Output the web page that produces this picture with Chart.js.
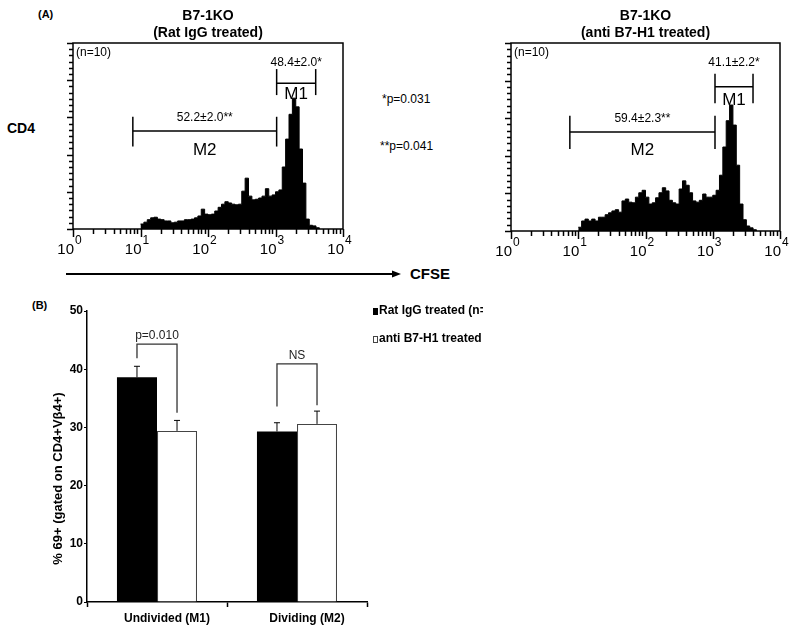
<!DOCTYPE html>
<html>
<head>
<meta charset="utf-8">
<script src="https://cdn.jsdelivr.net/npm/chart.js@4.4.0/dist/chart.umd.min.js"></script>
<style>
    body { margin: 0; background: #fff; font-family: "Liberation Sans", Arial, sans-serif; color: #000; }
    #page { position: relative; width: 800px; height: 633px; overflow: hidden; background: #fff; }
    #page canvas, #page .lbl, #page svg { position: absolute; }
    .lbl { line-height: 1; white-space: nowrap; }
    .bold { font-weight: bold; }
    #barLegend { position: absolute; left: 373px; top: 302px; width: 110px; overflow: hidden; }
    .leg-row { height: 28px; line-height: 16px; white-space: nowrap; font-weight: bold; font-size: 12px; }
    .swatch { display: inline-block; width: 5px; height: 7px; margin-right: 1px; vertical-align: -1px; box-sizing: border-box; }
</style>
</head>
<body>
<div id="page">
    <div class="lbl bold" style="left:38px; top:9px; font-size:11px;">(A)</div>
    <div class="lbl bold" style="left:7px; top:121px; font-size:14px;">CD4</div>
    <div class="lbl" style="left:382px; top:93px; font-size:12px;">*p=0.031</div>
    <div class="lbl" style="left:380px; top:140px; font-size:12px;">**p=0.041</div>
    <svg style="left:60px; top:268px;" width="345" height="12">
        <line x1="6" y1="6" x2="334" y2="6" stroke="#000" stroke-width="2"></line>
        <polygon points="341,6 332,2.5 332,9.5" fill="#000"></polygon>
    </svg>
    <div class="lbl bold" style="left:410px; top:266px; font-size:15px;">CFSE</div>
    <div class="lbl bold" style="left:32px; top:300px; font-size:11px;">(B)</div>

    <canvas id="histLeft" width="400" height="290" style="left:0; top:0;"></canvas>
    <canvas id="histRight" width="400" height="290" style="left:400px; top:0;"></canvas>
    <canvas id="barChart" width="800" height="343" style="left:0; top:290px;"></canvas>
    <div id="barLegend"></div>
</div>

<script>
const FONT = '"Liberation Sans", Arial, sans-serif';

// CFSE channel bins (log10 of bin start, bin width in decades)
const binStartLog = 1.0;
const binWidthLog = 0.05;

// CD4 events per CFSE bin
const ratIgGCounts = [8, 11, 15, 18, 19, 16, 15, 13, 13, 10, 11, 13, 13, 15, 15, 16, 18, 21, 32, 24,
    23, 24, 29, 35, 40, 44, 42, 40, 39, 40, 61, 82, 53, 47, 48, 50, 53, 65, 53, 55,
    60, 63, 100, 145, 185, 211, 197, 129, 74, 16, 6, 5, 2];
const antiB7H1Counts = [6, 16, 19, 16, 19, 16, 22, 22, 26, 29, 32, 34, 30, 48, 51, 46, 45, 54, 61, 65,
    54, 43, 45, 53, 61, 69, 64, 49, 45, 43, 67, 80, 73, 61, 48, 46, 49, 59, 54, 54,
    57, 65, 89, 134, 176, 201, 169, 105, 43, 18, 8, 5, 2];

// Gates (CFSE range) and their stats
const gateNames = ['M2', 'M1'];
const ratIgGGateRanges = [[7.7, 1040], [1040, 3940]];
const ratIgGGateStats = ['52.2±2.0**', '48.4±2.0*'];
const antiB7H1GateRanges = [[7.5, 1080], [1080, 3970]];
const antiB7H1GateStats = ['59.4±2.3**', '41.1±2.2*'];

// Panel B: % CD69+ per division group
const groups = ['Undivided (M1)', 'Dividing (M2)'];
const ratIgGCD69 = [38.6, 29.3];
const ratIgGCD69Sem = [1.9, 1.5];
const antiB7H1CD69 = [29.4, 30.6];
const antiB7H1CD69Sem = [1.8, 2.2];
const comparisons = ['p=0.010', 'NS'];

// Function to turn bin counts into step points
function histPoints(counts) {
    const pts = counts.map((c, k) => ({ x: Math.pow(10, binStartLog + k * binWidthLog), y: c }));
    pts.push({ x: Math.pow(10, binStartLog + counts.length * binWidthLog), y: 0 });
    return pts;
}

function strokeLine(ctx, x1, y1, x2, y2) {
    ctx.beginPath();
    ctx.moveTo(x1, y1);
    ctx.lineTo(x2, y2);
    ctx.stroke();
}

// Plugin drawing the frame, log axis, gates and stats of a histogram
function makeHistDecor(ranges, stats, levels) {
    return {
        id: 'histDecor',
        afterDraw(chart) {
            const { ctx, chartArea: a, scales: { x, y } } = chart;
            ctx.save();
            ctx.strokeStyle = '#000';
            ctx.fillStyle = '#000';

            // frame
            ctx.lineWidth = 1.5;
            ctx.strokeRect(a.left, a.top, a.right - a.left, a.bottom - a.top);

            // x ticks: decades with minor ticks
            ctx.lineWidth = 1.5;
            for (let e = 0; e < 4; e++) {
                for (let m = 1; m < 10; m++) {
                    const px = Math.round(x.getPixelForValue(m * Math.pow(10, e))) + 0.5;
                    strokeLine(ctx, px, a.bottom, px, a.bottom + (m === 1 ? 8 : 5));
                }
            }
            strokeLine(ctx, Math.round(a.right) + 0.5, a.bottom, Math.round(a.right) + 0.5, a.bottom + 8);

            // y ticks (left, outside)
            for (let v = 0; v <= 300; v += 10) {
                const py = Math.round(y.getPixelForValue(v)) + 0.5;
                strokeLine(ctx, a.left - (v % 60 === 0 ? 6 : 4), py, a.left, py);
            }

            // x tick labels 10^n
            for (let e = 0; e <= 4; e++) {
                const px = x.getPixelForValue(Math.pow(10, e));
                ctx.font = '15px ' + FONT;
                ctx.textAlign = 'right';
                ctx.textBaseline = 'alphabetic';
                ctx.fillText('10', px + 1, a.bottom + 25);
                ctx.font = '12px ' + FONT;
                ctx.textAlign = 'left';
                ctx.fillText(String(e), px + 2, a.bottom + 15);
            }

            // (n=10)
            ctx.font = '12px ' + FONT;
            ctx.textAlign = 'left';
            ctx.textBaseline = 'middle';
            ctx.fillText('(n=10)', a.left + 3, a.top + 10);

            // gates
            ranges.forEach((r, i) => {
                const lv = levels[i];
                const x1 = x.getPixelForValue(r[0]);
                const x2 = x.getPixelForValue(r[1]);
                ctx.lineWidth = 1.5;
                strokeLine(ctx, x1, y.getPixelForValue(lv.line), x2, y.getPixelForValue(lv.line));
                strokeLine(ctx, x1, y.getPixelForValue(lv.top), x1, y.getPixelForValue(lv.bottom));
                strokeLine(ctx, x2, y.getPixelForValue(lv.top), x2, y.getPixelForValue(lv.bottom));
                const cx = (x1 + x2) / 2;
                ctx.textAlign = 'center';
                ctx.font = '17px ' + FONT;
                ctx.fillText(gateNames[i], cx, y.getPixelForValue(lv.name));
                ctx.font = '12px ' + FONT;
                ctx.fillText(stats[i], cx, y.getPixelForValue(lv.stat));
            });
            ctx.restore();
        }
    };
}

function histConfig(counts, subtitle, pad, ranges, stats, levels) {
    return {
        type: 'line',
        data: {
            datasets: [{
                data: histPoints(counts),
                stepped: true,
                fill: 'origin',
                backgroundColor: '#000',
                borderColor: '#000',
                borderWidth: 1,
                pointRadius: 0
            }]
        },
        options: {
            responsive: false,
            animation: false,
            layout: { padding: pad },
            plugins: {
                legend: { display: false },
                tooltip: { enabled: false },
                title: {
                    display: true,
                    text: ['B7-1KO', subtitle],
                    fullSize: false,
                    color: '#000',
                    font: { family: FONT, size: 14, weight: 'bold' },
                    padding: { top: 8, bottom: 1.4 }
                }
            },
            scales: {
                x: { type: 'logarithmic', min: 1, max: 10000, display: false },
                y: { min: 0, max: 300, display: false }
            }
        },
        plugins: [makeHistDecor(ranges, stats, levels)]
    };
}

new Chart(document.getElementById('histLeft'), histConfig(
    ratIgGCounts, '(Rat IgG treated)',
    { left: 73, right: 57, top: 0, bottom: 61 },
    ratIgGGateRanges, ratIgGGateStats,
    [{ line: 158, top: 181, bottom: 133, name: 127, stat: 179 },
     { line: 235, top: 258, bottom: 216, name: 218, stat: 269 }]
));

new Chart(document.getElementById('histRight'), histConfig(
    antiB7H1Counts, '(anti B7-H1 treated)',
    { left: 111, right: 20, top: 0, bottom: 59 },
    antiB7H1GateRanges, antiB7H1GateStats,
    [{ line: 158, top: 184, bottom: 131, name: 129, stat: 180 },
     { line: 230, top: 251, bottom: 204, name: 209, stat: 268 }]
));

// Plugin for error bars, significance brackets and the y title
const barDecor = {
    id: 'barDecor',
    afterDraw(chart) {
        const { ctx, chartArea: a, scales: { y } } = chart;
        const sems = [ratIgGCD69Sem, antiB7H1CD69Sem];
        ctx.save();
        ctx.strokeStyle = '#000';
        ctx.lineWidth = 1;
        chart.data.datasets.forEach((ds, di) => {
            chart.getDatasetMeta(di).data.forEach((bar, i) => {
                const top = y.getPixelForValue(ds.data[i] + sems[di][i]);
                strokeLine(ctx, bar.x, bar.y, bar.x, top);
                strokeLine(ctx, bar.x - 3, top, bar.x + 3, top);
            });
        });

        // brackets
        const bracketLevels = [{ top: 44.3, left: 41.9, right: 32.5 }, { top: 40.9, left: 33.6, right: 33.8 }];
        const m0 = chart.getDatasetMeta(0).data;
        const m1 = chart.getDatasetMeta(1).data;
        ctx.strokeStyle = '#333';
        ctx.lineWidth = 1.3;
        comparisons.forEach((txt, i) => {
            const lv = bracketLevels[i];
            const x1 = m0[i].x, x2 = m1[i].x;
            const yt = y.getPixelForValue(lv.top);
            ctx.beginPath();
            ctx.moveTo(x1, y.getPixelForValue(lv.left));
            ctx.lineTo(x1, yt);
            ctx.lineTo(x2, yt);
            ctx.lineTo(x2, y.getPixelForValue(lv.right));
            ctx.stroke();
            ctx.fillStyle = '#222';
            ctx.font = '12px ' + FONT;
            ctx.textAlign = 'center';
            ctx.textBaseline = 'alphabetic';
            ctx.fillText(txt, (x1 + x2) / 2, yt - 5);
        });

        // rotated y title
        ctx.fillStyle = '#000';
        ctx.font = 'bold 13px ' + FONT;
        ctx.translate(a.left - 29, (a.top + a.bottom) / 2 + 22);
        ctx.rotate(-Math.PI / 2);
        ctx.textAlign = 'center';
        ctx.textBaseline = 'middle';
        ctx.fillText('% 69+ (gated on CD4+Vβ4+)', 0, 0);
        ctx.restore();
    }
};

const axisFont = { family: FONT, size: 12, weight: 'bold' };

const barChart = new Chart(document.getElementById('barChart'), {
    type: 'bar',
    data: {
        labels: groups,
        datasets: [
            { label: 'Rat IgG treated (n=10)', data: ratIgGCD69, backgroundColor: '#000', borderColor: '#000', borderWidth: 0 },
            { label: 'anti B7-H1 treated (n=10)', data: antiB7H1CD69, backgroundColor: '#fff', borderColor: '#444', borderWidth: 1.2 }
        ]
    },
    options: {
        responsive: false,
        animation: false,
        layout: { padding: { left: 0, right: 433, top: 21, bottom: 0 } },
        datasets: { bar: { categoryPercentage: 0.572, barPercentage: 1 } },
        plugins: {
            legend: { display: false },
            tooltip: { enabled: false }
        },
        scales: {
            x: {
                grid: { offset: true, drawOnChartArea: false, tickLength: 5, tickColor: '#000', tickWidth: 1.5 },
                border: { color: '#000', width: 1.5 },
                ticks: { color: '#000', font: axisFont, padding: 4, labelOffset: 10, maxRotation: 0, autoSkip: false },
                afterFit: (s) => { s.height = 31; }
            },
            y: {
                min: 0,
                max: 50,
                grid: { drawOnChartArea: false, tickLength: 3, tickColor: '#000' },
                border: { color: '#000', width: 1.5 },
                ticks: { stepSize: 10, color: '#000', font: axisFont, padding: 1 },
                afterFit: (s) => { s.width = 87; }
            }
        }
    },
    plugins: [barDecor]
});

// HTML legend for panel B
const legendBox = document.getElementById('barLegend');
barChart.data.datasets.forEach(ds => {
    const row = document.createElement('div');
    row.className = 'leg-row';
    const sw = document.createElement('span');
    sw.className = 'swatch';
    sw.style.background = ds.backgroundColor;
    sw.style.border = '1px solid ' + (ds.borderWidth ? ds.borderColor : ds.backgroundColor);
    const tx = document.createElement('span');
    tx.textContent = ds.label;
    row.appendChild(sw);
    row.appendChild(tx);
    legendBox.appendChild(row);
});
</script>
</body>
</html>
